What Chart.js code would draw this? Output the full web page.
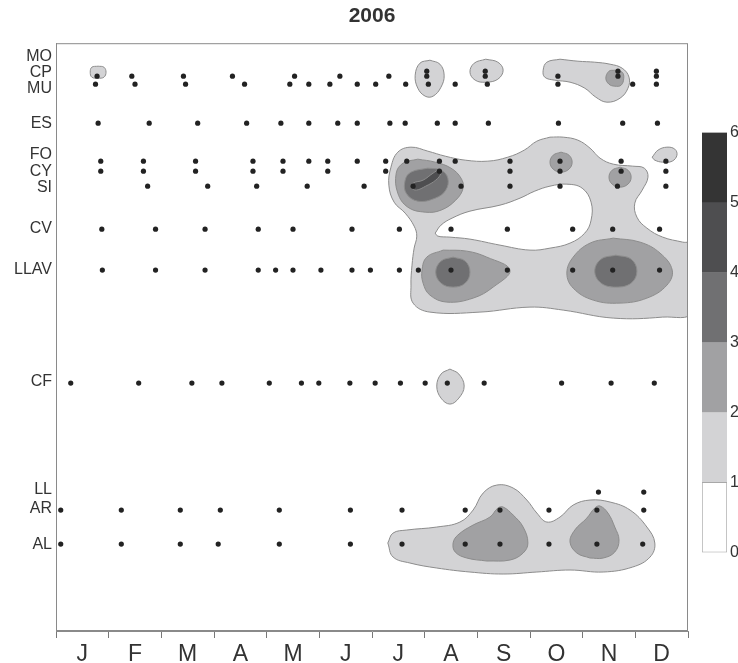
<!DOCTYPE html>
<html>
<head>
<meta charset="utf-8">
<script src="https://cdn.jsdelivr.net/npm/chart.js@4.4.1/dist/chart.umd.min.js"></script>
<style>
html, body { margin: 0; padding: 0; background: #fff; overflow: hidden; }
#wrap { position: relative; width: 738px; height: 663px; overflow: hidden; }
#main { position: absolute; left: 0; top: 0; }
#bar { position: absolute; left: 690px; top: 120px; }
</style>
</head>
<body>
<div id="wrap">
  <canvas id="main" width="738" height="663"></canvas>
  <canvas id="bar" width="60" height="445"></canvas>
</div>
<script>
// x = month of the year (0 = 1 Jan, 12 = 31 Dec), y = depth units of each station row
const monthLabels = ['J', 'F', 'M', 'A', 'M', 'J', 'J', 'A', 'S', 'O', 'N', 'D'];
const monthTicks = [0, 0.5, 1, 1.5, 2, 2.5, 3, 3.5, 4, 4.5, 5, 5.5, 6, 6.5, 7, 7.5, 8, 8.5, 9, 9.5, 10, 10.5, 11, 11.5, 12];

const stationNames = ['MO', 'CP', 'MU', 'ES', 'FO', 'CY', 'SI', 'CV', 'LLAV', 'CF', 'LL', 'AR', 'AL'];
const stationLabelDepth = [13, 29, 45, 80, 111, 128, 144, 185, 226, 339, 447, 466, 502];

// sampling dates (months) per station row
const moMonths = [7.04, 8.15, 10.67, 11.40];
const cpMonths = [0.78, 1.44, 2.42, 3.35, 4.53, 5.39, 6.32, 7.04, 8.15, 9.53, 10.67, 11.40];
const muMonths = [0.75, 1.50, 2.46, 3.58, 4.44, 4.80, 5.20, 5.72, 6.07, 6.64, 7.07, 7.58, 8.19, 9.53, 10.95, 11.40];
const esMonths = [0.80, 1.77, 2.69, 3.62, 4.27, 4.80, 5.35, 5.72, 6.34, 6.63, 7.24, 7.58, 8.21, 9.54, 10.76, 11.42];
const foMonths = [0.85, 1.66, 2.65, 3.74, 4.31, 4.80, 5.16, 5.72, 6.26, 6.66, 7.28, 7.58, 8.62, 9.57, 10.73, 11.58];
const cyMonths = [0.85, 1.66, 2.65, 3.74, 4.31, 5.16, 6.26, 7.28, 8.62, 9.57, 10.73, 11.58];
const siMonths = [1.74, 2.88, 3.81, 4.77, 5.85, 6.78, 7.69, 8.62, 9.57, 10.66, 11.58];
const cvMonths = [0.87, 1.89, 2.83, 3.84, 4.50, 5.62, 6.52, 7.50, 8.57, 9.81, 10.57, 11.46];
const llavMonths = [0.88, 1.89, 2.83, 3.84, 4.17, 4.50, 5.03, 5.62, 5.97, 6.52, 6.88, 7.50, 8.57, 9.81, 10.57, 11.46];
const cfMonths = [0.28, 1.57, 2.58, 3.15, 4.05, 4.66, 4.99, 5.58, 6.06, 6.54, 7.01, 7.43, 8.13, 9.60, 10.54, 11.36];
const llMonths = [10.30, 11.16];
const arMonths = [0.09, 1.24, 2.36, 3.12, 4.24, 5.59, 6.57, 7.77, 8.43, 9.36, 10.27, 11.16];
const alMonths = [0.09, 1.24, 2.36, 3.08, 4.24, 5.59, 6.57, 7.77, 8.43, 9.36, 10.27, 11.14];

const sampleRows = [moMonths, cpMonths, muMonths, esMonths, foMonths, cyMonths, siMonths, cvMonths, llavMonths, cfMonths, llMonths, arMonths, alMonths];
const sampleDepth = [28, 33, 41, 80, 118, 128, 143, 186, 227, 340, 449, 467, 501];

// contour outlines: [month, depth]
const lvl1Main = [[9.38,94],[9.63,94],[9.91,97],[10.14,105],[10.33,115],[10.58,121],[10.95,123],[11.17,125],[11.24,134],[11.13,147],[10.99,160],[11.03,174],[11.22,185],[11.52,194],[11.90,199],[12.08,201],[12.08,269],[11.52,274],[10.58,275],[9.63,267],[9.00,264],[8.05,269],[7.10,269],[6.78,260],[6.74,242],[6.76,222],[6.80,205],[6.85,193],[6.80,183],[6.63,170],[6.42,159],[6.32,142],[6.36,124],[6.49,109],[6.74,104],[7.06,108],[7.39,113],[7.77,117],[8.20,118],[8.58,114],[8.89,107],[9.13,98],[9.38,94]];
const lvl1JanCP = [[0.80,23],[0.91,24],[0.95,29],[0.91,34],[0.80,35],[0.68,34],[0.65,29],[0.68,24],[0.80,23]];
const lvl1AugCP = [[7.10,17],[7.29,21],[7.37,32],[7.31,44],[7.16,53],[7.01,53],[6.87,45],[6.82,32],[6.91,20],[7.10,17]];
const lvl1SepCP = [[8.16,16],[8.39,19],[8.49,27],[8.39,36],[8.16,39],[7.96,37],[7.86,29],[7.94,20],[8.16,16]];
const lvl1OctNovCP = [[9.57,16],[9.91,18],[10.23,19],[10.52,21],[10.75,25],[10.88,34],[10.86,45],[10.71,55],[10.46,59],[10.25,54],[10.04,45],[9.76,39],[9.47,37],[9.28,34],[9.25,27],[9.32,19],[9.57,16]];
const lvl1DecFO = [[11.32,114],[11.43,107],[11.60,104],[11.75,106],[11.79,112],[11.70,118],[11.52,119],[11.37,117],[11.32,114]];
const lvl1AugCF = [[7.48,326],[7.65,331],[7.75,343],[7.65,355],[7.48,361],[7.31,355],[7.23,343],[7.31,331],[7.48,326]];
const lvl1Bottom = [[6.30,500],[6.40,490],[6.66,487],[7.23,484],[7.67,479],[7.92,467],[8.11,450],[8.37,442],[8.68,445],[8.94,457],[9.13,470],[9.32,479],[9.57,474],[9.82,462],[10.14,457],[10.52,459],[10.90,467],[11.22,484],[11.37,500],[11.28,514],[10.95,524],[10.39,529],[9.76,527],[9.13,529],[8.49,531],[7.86,529],[7.23,525],[6.72,520],[6.40,514],[6.30,500]];
const lvl0Hole = [[7.20,190],[7.31,182],[7.52,175],[7.86,168],[8.43,162],[8.81,155],[9.09,148],[9.38,143],[9.70,141],[9.99,145],[10.16,159],[10.16,177],[10.04,190],[9.76,200],[9.38,205],[9.00,207],[8.43,202],[7.86,196],[7.48,194],[7.25,193],[7.20,190]];
const lvl2SI = [[6.87,116],[7.20,119],[7.50,125],[7.69,135],[7.73,145],[7.59,157],[7.31,167],[7.01,169],[6.68,164],[6.49,150],[6.46,130],[6.59,120],[6.87,116]];
const lvl2OctFO = [[9.59,109],[9.74,112],[9.80,119],[9.74,126],[9.59,129],[9.44,126],[9.38,119],[9.44,112],[9.59,109]];
const lvl2NovCY = [[10.71,124],[10.86,127],[10.92,134],[10.86,141],[10.71,144],[10.56,141],[10.50,134],[10.56,127],[10.71,124]];
const lvl2NovCP = [[10.61,27],[10.75,29],[10.78,35],[10.73,42],[10.61,43],[10.50,41],[10.44,35],[10.50,28],[10.61,27]];
const lvl2AugLLAV = [[7.35,207],[7.80,208],[8.18,214],[8.62,227],[8.30,244],[7.92,255],[7.42,259],[7.10,252],[6.97,240],[6.95,227],[7.04,214],[7.35,207]];
const lvl2NovLLAV = [[10.58,195],[11.09,199],[11.47,210],[11.70,227],[11.60,242],[11.22,255],[10.71,260],[10.20,257],[9.82,245],[9.70,230],[9.82,214],[10.14,200],[10.58,195]];
const lvl2SepAL = [[8.18,518],[7.80,515],[7.58,509],[7.54,500],[7.63,492],[7.92,482],[8.24,474],[8.39,465],[8.49,464],[8.68,472],[8.87,484],[8.96,500],[8.87,510],[8.62,517],[8.18,518]];
const lvl2NovAL = [[10.14,515],[9.89,510],[9.76,499],[9.85,487],[10.08,475],[10.23,465],[10.33,463],[10.48,470],[10.61,484],[10.69,497],[10.61,509],[10.39,515],[10.14,515]];
const lvl3SI = [[7.06,125],[7.31,127],[7.44,135],[7.40,147],[7.20,155],[6.87,158],[6.65,150],[6.63,137],[6.74,129],[7.06,125]];
const lvl3AugLLAV = [[7.54,214],[7.77,218],[7.86,229],[7.77,240],[7.54,244],[7.31,240],[7.21,229],[7.31,218],[7.54,214]];
const lvl3NovLLAV = [[10.63,212],[10.92,216],[11.03,228],[10.92,240],[10.63,244],[10.35,240],[10.23,228],[10.35,216],[10.63,212]];
const lvl4SI = [[6.74,145],[6.78,140],[6.97,137],[7.16,130],[7.27,127],[7.31,130],[7.21,137],[7.02,143],[6.84,147],[6.74,145]];

const levelFill = ['#ffffff', '#d3d3d5', '#a1a1a3', '#707072', '#4e4e50', '#343434'];
const legendLevels = [0, 1, 2, 3, 4, 5];

Chart.defaults.font.family = "'Liberation Sans', Arial, sans-serif";

const contours = [
  [lvl1Main, 1], [lvl1JanCP, 1], [lvl1AugCP, 1], [lvl1SepCP, 1], [lvl1OctNovCP, 1],
  [lvl1DecFO, 1], [lvl1AugCF, 1], [lvl1Bottom, 1],
  [lvl0Hole, 0],
  [lvl2SI, 2], [lvl2OctFO, 2], [lvl2NovCY, 2], [lvl2NovCP, 2], [lvl2AugLLAV, 2],
  [lvl2NovLLAV, 2], [lvl2SepAL, 2], [lvl2NovAL, 2],
  [lvl3SI, 3], [lvl3AugLLAV, 3], [lvl3NovLLAV, 3],
  [lvl4SI, 4]
];
const drawRank = { 1: 9, 0: 8, 2: 7, 3: 6, 4: 5 };

const datasets = contours.map(([pts, lvl]) => ({
  data: pts.map(p => ({ x: p[0], y: p[1] })),
  backgroundColor: levelFill[lvl],
  borderColor: '#8c8c8c',
  borderWidth: 1,
  fill: 'shape',
  tension: 0.4,
  pointRadius: 0,
  order: drawRank[lvl]
}));

const dots = [];
sampleRows.forEach((months, i) => {
  months.forEach(m => dots.push({ x: m, y: sampleDepth[i] }));
});
datasets.push({
  data: dots,
  showLine: false,
  pointRadius: 2.6,
  pointBackgroundColor: '#222',
  pointBorderWidth: 0,
  order: 0
});

const frame = {
  id: 'frame',
  afterDatasetsDraw(chart) {
    const a = chart.chartArea, ctx = chart.ctx;
    ctx.save();
    ctx.strokeStyle = '#8a8a8a';
    ctx.lineWidth = 1;
    ctx.strokeRect(a.left + 0.5, a.top + 0.5, a.right - a.left - 1, a.bottom - a.top - 1);
    ctx.restore();
  }
};

new Chart(document.getElementById('main'), {
  type: 'line',
  data: { datasets },
  plugins: [frame],
  options: {
    responsive: false,
    animation: false,
    events: [],
    layout: { padding: { right: 50 } },
    plugins: {
      legend: { display: false },
      tooltip: { enabled: false },
      title: {
        display: true, text: '2006', fullSize: false, color: '#333',
        font: { size: 21, weight: 'bold' }, padding: { top: 4, bottom: 14 }
      }
    },
    scales: {
      x: {
        type: 'linear', min: 0, max: 12,
        afterBuildTicks: s => { s.ticks = monthTicks.map(v => ({ value: v })); },
        afterFit: s => { s.height = 32; },
        ticks: {
          autoSkip: false, maxRotation: 0, padding: 3, color: '#333', font: { size: 23 },
          callback: (v, i) => (i % 2 === 1 ? monthLabels[(i - 1) / 2] : '')
        },
        grid: {
          drawOnChartArea: false, drawTicks: true, tickLength: 7,
          color: ctx => (ctx.tick && Number.isInteger(ctx.tick.value) ? '#777' : 'rgba(0,0,0,0)')
        },
        border: { color: '#8a8a8a' }
      },
      y: {
        type: 'linear', min: 0, max: 588, reverse: true,
        afterBuildTicks: s => { s.ticks = stationLabelDepth.map(v => ({ value: v })); },
        afterFit: s => { s.width = 56; },
        ticks: {
          autoSkip: false, padding: 4, color: '#333', font: { size: 16 },
          callback: (v, i) => stationNames[i]
        },
        grid: { display: false, drawTicks: false },
        border: { color: '#8a8a8a' }
      }
    }
  }
});

new Chart(document.getElementById('bar'), {
  type: 'bar',
  data: {
    labels: [''],
    datasets: legendLevels.map(l => ({
      data: [1],
      backgroundColor: levelFill[l],
      borderColor: '#a8a8a8',
      borderWidth: l === 0 ? 1 : 0,
      borderSkipped: false,
      barPercentage: 1,
      categoryPercentage: 1
    }))
  },
  options: {
    responsive: false,
    animation: false,
    events: [],
    layout: { padding: { left: 12, top: 10, bottom: 12 } },
    plugins: { legend: { display: false }, tooltip: { enabled: false } },
    scales: {
      x: { display: false, stacked: true },
      y: {
        stacked: true, position: 'right', min: 0, max: 6,
        afterFit: s => { s.width = 23; },
        ticks: { stepSize: 1, padding: 3, color: '#333', font: { size: 16 } },
        grid: { display: false, drawTicks: false },
        border: { display: false }
      }
    }
  }
});
</script>
</body>
</html>
